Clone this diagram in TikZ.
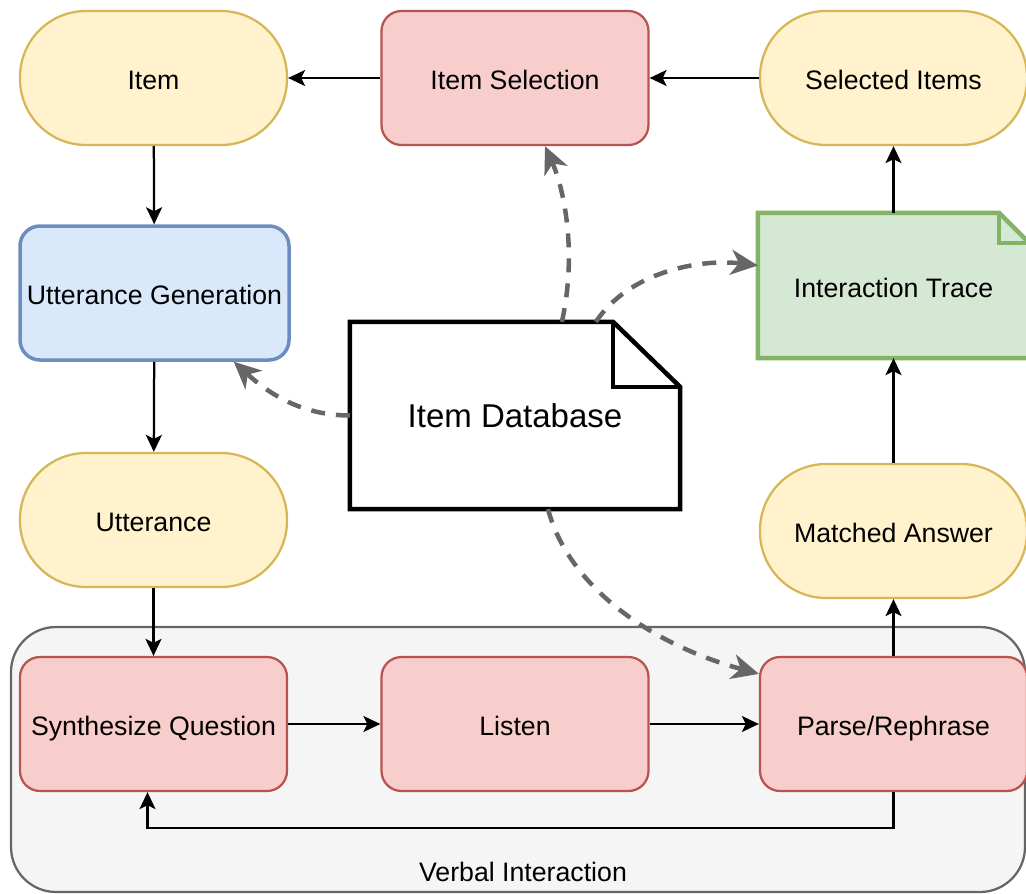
\documentclass[tikz,border=0pt]{standalone}
\usepackage{fontspec}
\setmainfont{Liberation Sans}
\usetikzlibrary{arrows.meta,backgrounds}

\definecolor{yfill}{HTML}{FFF2CC}
\definecolor{ystroke}{HTML}{D6B656}
\definecolor{rfill}{HTML}{F8CECC}
\definecolor{rstroke}{HTML}{B85450}
\definecolor{bfill}{HTML}{DAE8FC}
\definecolor{bstroke}{HTML}{6C8EBF}
\definecolor{gfill}{HTML}{D5E8D4}
\definecolor{gstroke}{HTML}{82B366}
\definecolor{cfill}{HTML}{F5F5F5}
\definecolor{cstroke}{HTML}{666666}
\definecolor{dgray}{HTML}{666666}

\begin{document}
\begin{tikzpicture}[x=1pt,y=-1pt,
  base/.style={minimum width=267pt, minimum height=134pt, inner sep=0pt,
    font=\fontsize{26.7}{32}\selectfont, text height=23pt, text depth=0pt,
    line width=2.25pt},
  term/.style={base, rounded corners=66pt, draw=ystroke, fill=yfill},
  proc/.style={base, rounded corners=20pt, draw=rstroke, fill=rfill},
  flow/.style={-{Stealth[length=17pt,width=16pt,inset=4pt]}, line width=2.25pt, black},
  dep/.style={-{Stealth[length=27pt,width=25pt,inset=8pt]}, line width=4.5pt,
    dash pattern=on 14pt off 11pt, draw=dgray},
  docline/.style={line width=4.5pt, line join=miter}
]
\useasboundingbox (0,0) rectangle (1026,894);

% group frame for the dialogue loop
\node[draw=cstroke, fill=cfill, rounded corners=45pt, minimum width=1014pt,
  minimum height=265pt, line width=2.25pt] (vi) at (518,759.5) {};
\node[font=\fontsize{26.7}{32}\selectfont] (vilabel) at (523,872) {Verbal Interaction};

% top row
\node[term] (item) at (153.5,78) {Item};
\node[proc] (isel) at (515,78) {Item Selection};
\node[term] (sel) at (893.5,78) {Selected Items};

% left column
\node[base, rounded corners=20pt, draw=bstroke, fill=bfill, line width=3.5pt,
  minimum width=269pt] (ug) at (154.5,293) {Utterance Generation};
\node[term] (utt) at (153.5,520) {Utterance};

% right column
\node[base, minimum width=269pt, minimum height=143pt] (it) at (893.5,285.5) {Interaction Trace};
\node[term] (ans) at (893.5,531) {Matched Answer};

% centre document
\node[base, minimum width=328pt, minimum height=185pt,
  font=\fontsize{33}{40}\selectfont, text height=24.5pt] (db) at (515,415.5) {Item Database};

% dialogue loop
\node[proc] (synth) at (153.5,724) {Synthesize Question};
\node[proc] (listen) at (515,724) {Listen};
\node[proc] (parse) at (893.5,724) {Parse/Rephrase};

% dog-eared document outlines behind their labels
\begin{scope}[on background layer]
  \filldraw[docline, draw=gstroke, fill=gfill]
    (it.north west) -- ([xshift=-30pt]it.north east) -- ([yshift=-30pt]it.north east)
    -- (it.south east) -- (it.south west) -- cycle;
  \draw[docline, draw=gstroke]
    ([xshift=-30pt]it.north east) |- ([yshift=-30pt]it.north east);
  \filldraw[docline, draw=black, fill=white]
    (db.north west) -- ([xshift=-67pt]db.north east) -- ([yshift=-65pt]db.north east)
    -- (db.south east) -- (db.south west) -- cycle;
  \draw[docline, draw=black]
    ([xshift=-67pt]db.north east) |- ([yshift=-65pt]db.north east);
\end{scope}

% main flow
\draw[flow] (isel) -- (item);
\draw[flow] (sel) -- (isel);
\draw[flow] (item) -- (ug);
\draw[flow] (ug) -- (utt);
\draw[flow] (utt) -- (synth);
\draw[flow] (synth) -- (listen);
\draw[flow] (listen) -- (parse);
\draw[flow] (parse.south) -- ++(0,36) -| ([xshift=-6pt]synth.south);
\draw[flow] (parse) -- (ans);
\draw[flow] (ans) -- (it);
\draw[flow] (it) -- (sel);

% lookups from the item database
\draw[dep] ([xshift=212pt]db.north west) .. controls +(15,-67) and +(20,45) .. ([xshift=30pt]isel.south);
\draw[dep] ([xshift=246pt]db.north west) .. controls +(33,-50) and +(-58,-7) .. ([yshift=20pt]it.west);
\draw[dep] (db.west) .. controls +(-50,0) and +(33,30) .. ([xshift=-57pt]ug.south east);
\draw[dep] ([xshift=33pt]db.south) .. controls +(20,76) and +(-110,-30) .. ([yshift=-18pt]parse.north west);
\end{tikzpicture}
\end{document}
